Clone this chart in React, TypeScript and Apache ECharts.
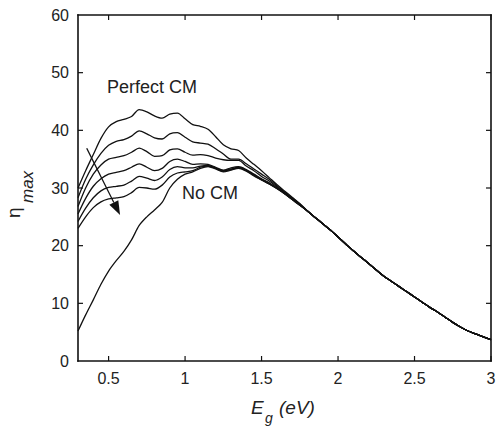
import React, { useEffect, useRef } from 'react';
import * as echarts from 'echarts';

// Band gap grid (eV): region where curves differ, and common tail
const xHead = [0.3, 0.35, 0.4, 0.45, 0.5, 0.55, 0.6, 0.65, 0.7, 0.75, 0.8, 0.85, 0.9, 0.95, 1.0,
  1.05, 1.1, 1.15, 1.2, 1.25, 1.3, 1.35, 1.4, 1.45, 1.5, 1.55, 1.6, 1.65, 1.7, 1.75];
const xTail = [1.8, 1.85, 1.9, 1.95, 2.0, 2.05, 2.1, 2.15, 2.2, 2.25, 2.3, 2.35, 2.4, 2.45, 2.5,
  2.55, 2.6, 2.65, 2.7, 2.75, 2.8, 2.85, 2.9, 2.95, 3.0];

const tail = [26.0, 24.9, 23.8, 22.7, 21.5, 20.3, 19.1, 18.0, 16.9, 15.8, 14.7, 13.8, 12.9, 12.0, 11.1,
  10.2, 9.3, 8.5, 7.6, 6.7, 5.9, 5.2, 4.7, 4.2, 3.7];

const perfectCM = [30.0, 33.0, 35.8, 38.6, 40.6, 41.5, 41.9, 42.4, 43.6, 43.2, 42.5, 42.1, 42.8, 43.0, 42.0,
  41.0, 40.7, 40.2, 38.9, 37.5, 36.8, 36.5, 35.2, 34.1, 33.0, 31.8, 30.6, 29.5, 28.4, 27.3];
const cm2 = [28.3, 31.5, 34.0, 36.0, 37.4, 38.1, 38.4, 39.0, 39.9, 39.4, 38.7, 38.5, 39.4, 39.6, 38.8,
  38.0, 37.8, 37.6, 36.8, 35.9, 35.0, 35.0, 34.2, 33.3, 32.4, 31.5, 30.4, 29.3, 28.3, 27.2];
const cm3 = [26.8, 30.0, 32.4, 34.0, 35.0, 35.3, 35.6, 36.2, 36.9, 36.3, 35.5, 35.6, 36.6, 36.8, 36.2,
  35.7, 35.8, 35.6, 35.2, 34.9, 34.8, 34.8, 33.8, 33.0, 32.0, 31.2, 30.2, 29.2, 28.2, 27.2];
const cm4 = [25.5, 28.2, 30.3, 31.6, 32.4, 32.7, 33.0, 33.6, 34.2, 33.6, 33.0, 33.4, 34.6, 35.0, 34.6,
  34.1, 34.2, 34.1, 33.6, 33.1, 33.5, 33.7, 33.2, 32.4, 31.6, 30.9, 30.0, 29.1, 28.1, 27.1];
const cm5 = [24.2, 26.5, 28.3, 29.5, 30.1, 30.3, 30.5, 31.2, 32.0, 31.7, 31.3, 31.9, 33.2, 33.7, 33.5,
  33.5, 33.8, 33.9, 33.5, 33.0, 33.3, 33.6, 33.1, 32.3, 31.5, 30.8, 30.0, 29.1, 28.1, 27.1];
const cm6 = [23.0, 25.0, 26.6, 27.6, 28.1, 28.3, 28.5, 29.2, 30.1, 30.0, 29.8, 30.5, 31.9, 32.6, 32.8,
  33.0, 33.6, 33.8, 33.4, 32.9, 33.2, 33.5, 33.0, 32.2, 31.4, 30.7, 29.9, 29.0, 28.0, 27.0];
const noCM = [5.2, 8.0, 10.6, 13.3, 15.6, 17.4, 19.0, 21.0, 23.5, 25.0, 26.2, 27.5, 30.0, 31.5, 32.4,
  32.8, 33.4, 33.7, 33.3, 32.8, 33.1, 33.4, 32.9, 32.1, 31.4, 30.7, 29.9, 29.0, 28.0, 27.0];

const curves = [perfectCM, cm2, cm3, cm4, cm5, cm6, noCM];
const xTicks = [0.5, 1, 1.5, 2, 2.5, 3];
const yTicks = [10, 20, 30, 40, 50];
const xRange = [0.3, 3];
const yRange = [0, 60];

// Arrow annotation (data coordinates): start and tip
const arrowFrom = [0.357, 36.9];
const arrowTo = [0.575, 25.3];

const FONT = '"Liberation Sans", Arial, sans-serif';
const INK = '#111111';

export default function App() {
  const ref = useRef<HTMLDivElement>(null);
  useEffect(() => {
    document.body.style.margin = '0';
    const chart = echarts.init(ref.current!, null, { renderer: 'svg' });
    const series: any[] = curves.map((c) => ({
      type: 'line',
      data: xHead.map((x, i) => [x, c[i]]).concat(xTail.map((x, i) => [x, tail[i]])),
      showSymbol: false,
      smooth: 0.3,
      lineStyle: { color: '#111111', width: 1.3 },
    }));
    // axes box, inner ticks on four sides and the arrow, positioned through the axes' scales
    series.push({
      type: 'custom',
      coordinateSystem: 'cartesian2d',
      silent: true,
      clip: false,
      z: 5,
      data: [[1, 30]],
      renderItem: (_params: any, api: any) => {
        const children: any[] = [];
        const fill = { fill: INK };
        const p = api.coord([xRange[0], yRange[0]]);
        const q = api.coord([xRange[1], yRange[1]]);
        const lw = 1.6, h = lw / 2;
        const W = q[0] - p[0], H = p[1] - q[1];
        children.push({ type: 'rect', shape: { x: p[0] - h, y: q[1] - h, width: lw, height: H + lw }, style: fill });
        children.push({ type: 'rect', shape: { x: q[0] - h, y: q[1] - h, width: lw, height: H + lw }, style: fill });
        children.push({ type: 'rect', shape: { x: p[0] - h, y: q[1] - h, width: W + lw, height: lw }, style: fill });
        children.push({ type: 'rect', shape: { x: p[0] - h, y: p[1] - h, width: W + lw, height: lw }, style: fill });
        const tl = 5, tw = 1.2;
        xTicks.forEach((v) => {
          const cx = api.coord([v, yRange[0]])[0];
          children.push({ type: 'rect', shape: { x: cx - tw / 2, y: p[1] - tl, width: tw, height: tl }, style: fill });
          children.push({ type: 'rect', shape: { x: cx - tw / 2, y: q[1], width: tw, height: tl }, style: fill });
        });
        yTicks.forEach((v) => {
          const cy = api.coord([xRange[0], v])[1];
          children.push({ type: 'rect', shape: { x: p[0], y: cy - tw / 2, width: tl, height: tw }, style: fill });
          children.push({ type: 'rect', shape: { x: q[0] - tl, y: cy - tw / 2, width: tl, height: tw }, style: fill });
        });
        const p0 = api.coord(arrowFrom);
        const p1 = api.coord(arrowTo);
        const dx = p1[0] - p0[0];
        const dy = p1[1] - p0[1];
        const len = Math.sqrt(dx * dx + dy * dy);
        const ux = dx / len, uy = dy / len;
        const headLen = 14, headHalf = 5;
        const bx = p1[0] - ux * headLen, by = p1[1] - uy * headLen;
        children.push({ type: 'line', shape: { x1: p0[0], y1: p0[1], x2: bx, y2: by }, style: { stroke: '#111111', lineWidth: 1.3 } });
        children.push({
          type: 'polygon',
          shape: { points: [[p1[0], p1[1]], [bx - uy * headHalf, by + ux * headHalf], [bx + uy * headHalf, by - ux * headHalf]] },
          style: { fill: '#111111' },
        });
        return { type: 'group', children };
      },
    });

    const txt = (text: string, x: number, y: number, size: number, italic = false) => ({
      type: 'text', x, y,
      style: { text, fill: '#222222', fontSize: size, fontFamily: FONT, fontStyle: italic ? 'italic' : 'normal', textAlign: 'left', textVerticalAlign: 'middle' },
    });

    chart.setOption({
      animation: false,
      grid: { left: 78, right: 10, top: 15, bottom: 65 },
      xAxis: {
        type: 'value', min: xRange[0], max: xRange[1],
        axisLine: { show: false },
        axisTick: { show: false },
        splitLine: { show: false },
        axisLabel: { showMinLabel: false, color: '#222222', fontSize: 16, fontFamily: FONT, margin: 9 },
      },
      yAxis: {
        type: 'value', min: yRange[0], max: yRange[1], interval: 10,
        axisLine: { show: false },
        axisTick: { show: false },
        splitLine: { show: false },
        axisLabel: { color: '#222222', fontSize: 16, fontFamily: FONT, margin: 9 },
      },
      series,
      graphic: [
        txt('Perfect CM', 107, 87, 18),
        txt('No CM', 182, 193, 18),
        txt('E', 251, 407, 19, true),
        txt('g', 265, 418, 14, true),
        txt('(eV)', 279, 407, 19, true),
        {
          type: 'group', x: 13.5, y: 218, rotation: Math.PI / 2,
          children: [
            txt('η', 0, 0, 19),
            txt('max', 15, 13.5, 17, true),
          ],
        },
      ],
    });
    return () => chart.dispose();
  }, []);
  return <div ref={ref} style={{ width: 501, height: 426 }} />;
}
